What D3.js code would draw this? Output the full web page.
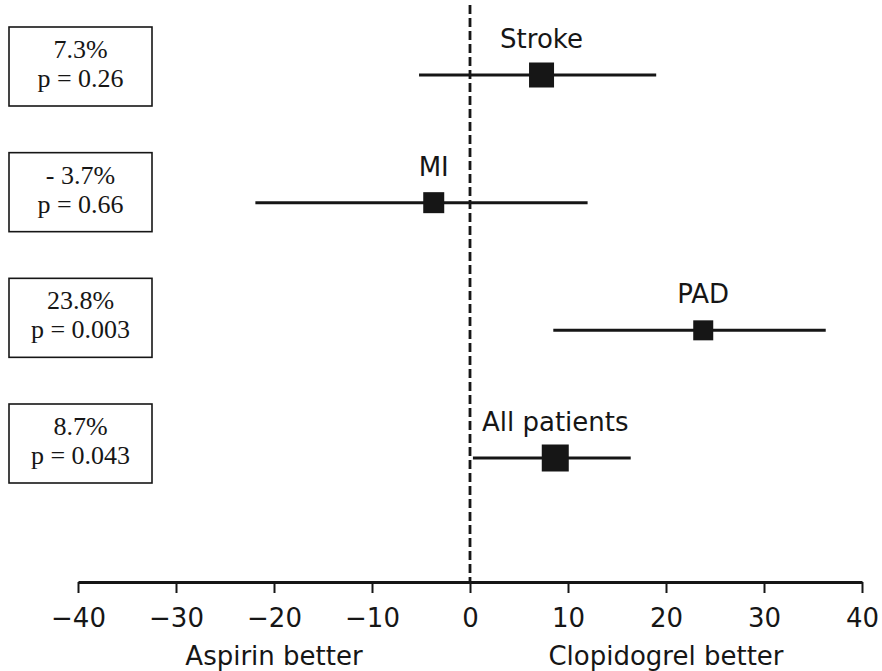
<!DOCTYPE html>
<html>
<head>
<meta charset="utf-8">
<script src="https://cdn.jsdelivr.net/npm/d3@7"></script>
<style>
  html, body { margin: 0; padding: 0; background: #ffffff; }
  svg { display: block; }
</style>
</head>
<body>
<svg id="chart" width="882" height="671"></svg>
<script>
// ---- data ----
const categories = ["Stroke", "MI", "PAD", "All patients"];
const riskReduction = [7.3, -3.7, 23.8, 8.7];
const ciLower = [-5.2, -21.9, 8.5, 0.3];
const ciUpper = [19.0, 12.0, 36.3, 16.4];
const pValues = ["0.26", "0.66", "0.003", "0.043"];
const tickValues = [-40, -30, -20, -10, 0, 10, 20, 30, 40];
const tickLabels = ["\u221240", "\u221230", "\u221220", "\u221210", "0", "10", "20", "30", "40"];
const sideLabels = ["Aspirin better", "Clopidogrel better"];
const sideLabelPos = [-20, 20];

// ---- style constants ----
const squareSize = [25, 21, 20, 27];
const ink = "#161616";
const sans = "'DejaVu Sans', sans-serif";
const serif = "'Liberation Serif', 'Times New Roman', serif";

const rows = categories.map((c, i) => ({
  name: c, est: riskReduction[i], lo: ciLower[i], hi: ciUpper[i], p: pValues[i], size: squareSize[i]
}));

const svg = d3.select("#chart");
const x = d3.scaleLinear().domain([-40, 40]).range([78, 862]);
const y = d3.scalePoint().domain(categories).range([75, 458]);
const yBox = d3.scalePoint().domain(categories).range([66.5, 443.5]);
const axisY = 582;

// zero reference line (dashed)
svg.append("line")
  .attr("x1", x(0)).attr("x2", x(0))
  .attr("y1", 5).attr("y2", axisY)
  .attr("stroke", ink).attr("stroke-width", 2.8)
  .attr("stroke-dasharray", "9,4");

// axis
const axis = d3.axisBottom(x)
  .tickValues(tickValues)
  .tickFormat((d, i) => tickLabels[i])
  .tickSize(11)
  .tickPadding(16)
  .tickSizeOuter(0);
const gAxis = svg.append("g").attr("transform", `translate(0,${axisY})`).call(axis);
gAxis.select(".domain").attr("stroke", ink).attr("stroke-width", 3);
gAxis.selectAll(".tick line").attr("stroke", ink).attr("stroke-width", 2);
gAxis.selectAll(".tick text")
  .attr("fill", ink)
  .style("font-family", sans)
  .style("font-size", "26px");

// side labels
svg.selectAll(".side").data(sideLabels).enter().append("text")
  .attr("class", "side")
  .attr("x", (d, i) => x(sideLabelPos[i]))
  .attr("y", 665)
  .attr("text-anchor", "middle")
  .attr("fill", ink)
  .style("font-family", sans)
  .style("font-size", "26px")
  .text(d => d);

// CI lines
svg.selectAll(".ci").data(rows).enter().append("line")
  .attr("class", "ci")
  .attr("x1", d => x(d.lo)).attr("x2", d => x(d.hi))
  .attr("y1", d => y(d.name)).attr("y2", d => y(d.name))
  .attr("stroke", ink).attr("stroke-width", 3);

// squares
svg.selectAll(".pt").data(rows).enter().append("rect")
  .attr("class", "pt")
  .attr("x", d => x(d.est) - d.size / 2)
  .attr("y", d => y(d.name) - d.size / 2)
  .attr("width", d => d.size).attr("height", d => d.size)
  .attr("fill", ink);

// category labels
svg.selectAll(".lbl").data(rows).enter().append("text")
  .attr("class", "lbl")
  .attr("x", d => x(d.est))
  .attr("y", d => y(d.name) - 27)
  .attr("text-anchor", "middle")
  .attr("fill", ink)
  .style("font-family", sans)
  .style("font-size", "26px")
  .text(d => d.name);

// boxes with risk reduction and p values
const boxW = 143, boxH = 79, boxX = 9;
const boxes = svg.selectAll(".box").data(rows).enter().append("g")
  .attr("class", "box")
  .attr("transform", d => `translate(${boxX},${yBox(d.name) - boxH / 2})`);
boxes.append("rect")
  .attr("width", boxW).attr("height", boxH)
  .attr("fill", "#ffffff").attr("stroke", ink).attr("stroke-width", 1.6);
boxes.append("text")
  .attr("x", boxW / 2).attr("y", 31)
  .attr("text-anchor", "middle").attr("fill", ink)
  .style("font-family", serif).style("font-size", "26px")
  .text(d => (d.est < 0 ? "- " + Math.abs(d.est).toFixed(1) : d.est.toFixed(1)) + "%");
boxes.append("text")
  .attr("x", boxW / 2).attr("y", 60)
  .attr("text-anchor", "middle").attr("fill", ink)
  .style("font-family", serif).style("font-size", "26px")
  .text(d => "p = " + d.p);
</script>
</body>
</html>
